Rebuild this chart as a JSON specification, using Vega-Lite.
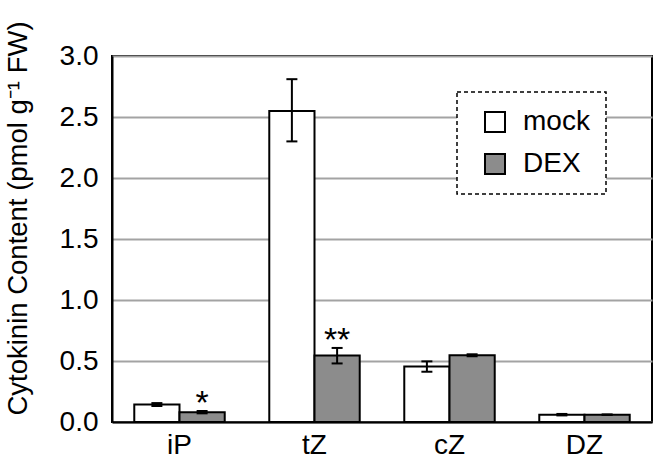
{
  "$schema": "https://vega.github.io/schema/vega-lite/v6.json",
  "width": 540,
  "height": 366,
  "autosize": {"type": "none"},
  "padding": {"left": 112, "top": 56, "right": 4, "bottom": 42},
  "background": "white",
  "data": {
    "values": [
      {"compound": "iP", "treatment": "mock", "value": 0.143, "lo": 0.131, "hi": 0.155, "sig": ""},
      {"compound": "iP", "treatment": "DEX", "value": 0.08, "lo": 0.071, "hi": 0.09, "sig": "*"},
      {"compound": "tZ", "treatment": "mock", "value": 2.55, "lo": 2.30, "hi": 2.81, "sig": ""},
      {"compound": "tZ", "treatment": "DEX", "value": 0.545, "lo": 0.48, "hi": 0.607, "sig": "**"},
      {"compound": "cZ", "treatment": "mock", "value": 0.455, "lo": 0.412, "hi": 0.497, "sig": ""},
      {"compound": "cZ", "treatment": "DEX", "value": 0.547, "lo": 0.539, "hi": 0.555, "sig": ""},
      {"compound": "DZ", "treatment": "mock", "value": 0.06, "lo": 0.054, "hi": 0.066, "sig": ""},
      {"compound": "DZ", "treatment": "DEX", "value": 0.06, "lo": 0.058, "hi": 0.062, "sig": ""}
    ]
  },
  "encoding": {
    "x": {
      "field": "compound", "type": "nominal", "sort": ["iP", "tZ", "cZ", "DZ"],
      "scale": {"paddingInner": 0.33, "paddingOuter": 0.165},
      "axis": {"title": null, "labelAngle": 0, "ticks": false, "labelPadding": 9, "labelFontSize": 28, "domainColor": "black", "domainWidth": 2, "grid": false}
    },
    "xOffset": {
      "field": "treatment", "type": "nominal", "sort": ["mock", "DEX"],
      "scale": {"paddingInner": 0, "paddingOuter": 0}
    }
  },
  "layer": [
    {
      "mark": {"type": "bar", "stroke": "black", "strokeWidth": 2},
      "encoding": {
        "y": {
          "field": "value", "type": "quantitative",
          "scale": {"domain": [0, 3], "nice": false},
          "axis": {
            "values": [0, 0.5, 1, 1.5, 2, 2.5, 3], "format": ".1f",
            "title": "Cytokinin Content  (pmol g\u207b\u00b9 FW)",
            "titleFontSize": 27.5, "titleFontWeight": "normal", "titleColor": "black",
            "titleAngle": -90, "titleBaseline": "alphabetic", "titleX": -86, "titleY": 162, "titleAlign": "center",
            "labelFontSize": 28, "labelPadding": 14, "ticks": false,
            "domainColor": "black", "domainWidth": 2,
            "grid": true, "gridColor": "#a3a3a3", "gridWidth": 2
          }
        },
        "color": {
          "field": "treatment", "type": "nominal", "sort": ["mock", "DEX"],
          "scale": {"domain": ["mock", "DEX"], "range": ["white", "#8c8c8c"]},
          "legend": {
            "orient": "none", "legendX": 345, "legendY": 36, "title": null,
            "symbolType": "square", "symbolSize": 400, "symbolStrokeColor": "black", "symbolStrokeWidth": 2,
            "symbolOpacity": 1,
            "labelFontSize": 28, "labelOffset": 14, "rowPadding": 14, "padding": 16,
            "symbolOffset": 8,
            "strokeColor": "black", "fillColor": "white"
          }
        }
      }
    },
    {
      "mark": {"type": "rule", "stroke": "black", "strokeWidth": 2},
      "encoding": {
        "y": {"field": "lo", "type": "quantitative"},
        "y2": {"field": "hi"}
      }
    },
    {
      "mark": {"type": "tick", "color": "black", "size": 11, "thickness": 2, "opacity": 1},
      "encoding": {"y": {"field": "lo", "type": "quantitative"}}
    },
    {
      "mark": {"type": "tick", "color": "black", "size": 11, "thickness": 2, "opacity": 1},
      "encoding": {"y": {"field": "hi", "type": "quantitative"}}
    },
    {
      "mark": {"type": "text", "fontSize": 34, "baseline": "alphabetic", "dy": 3, "color": "black"},
      "encoding": {
        "y": {"field": "hi", "type": "quantitative"},
        "text": {"field": "sig"}
      }
    }
  ],
  "config": {
    "font": "Liberation Sans",
    "view": {"stroke": "black", "strokeWidth": 2},
    "axis": {"labelColor": "black", "labelFont": "Liberation Sans", "titleFont": "Liberation Sans"},
    "legend": {"labelColor": "black", "strokeWidth": 1.5, "strokeDash": [4, 3]}
  }
}
